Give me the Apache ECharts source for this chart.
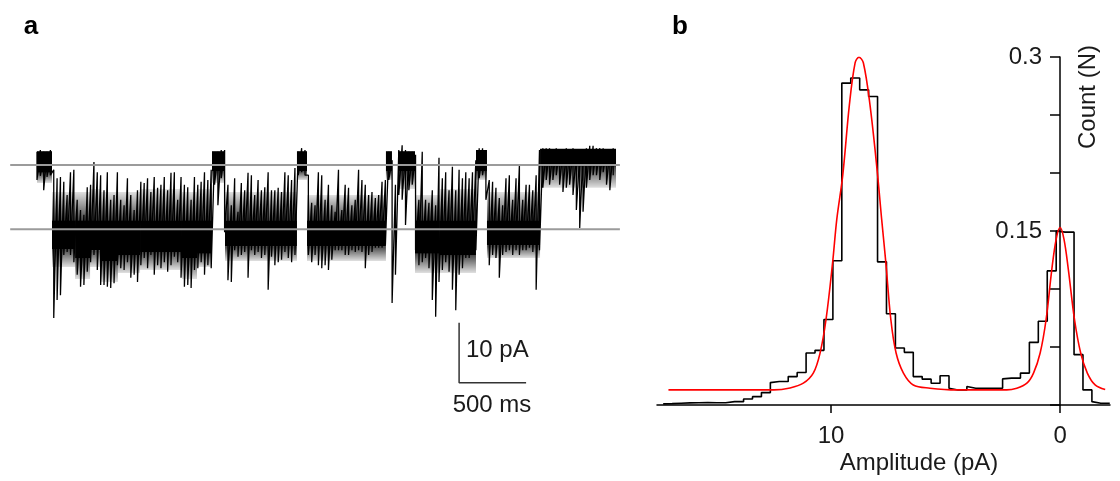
<!DOCTYPE html>
<html>
<head>
<meta charset="utf-8">
<script src="https://cdn.jsdelivr.net/npm/echarts@6/dist/echarts.min.js"></script>
<style>
html,body{margin:0;padding:0;background:#fff}
#main{width:1120px;height:481px}
</style>
</head>
<body>
<div id="main"></div>
<script>
// ---- panel a : single channel trace (pA), one column every 25 ms ----
var colStep = 25
var traceHi = [2.2, 2.5, 2.2, 2.2, 2.5, -0.8, -2.2, -2.0, -2.8, -5.0,
  -1.2, -0.8, -5.8, -7.5, -8.3, -3.7, -3.3, 0.5, -1.2, -1.7,
  -4.2, -1.2, -5.8, -5.0, -1.2, -5.8, -6.7, -2.2, -5.0, -7.5,
  -4.2, -2.8, -3.0, -2.2, -4.5, -2.0, -3.8, -3.3, -2.0, -4.2,
  -1.3, -1.2, -5.8, -2.0, -3.3, -3.7, -5.8, -2.0, -3.3, -2.8,
  -1.2, -2.5, -0.8, 2.0, 2.2, 2.5, 2.5, -3.3, -6.7, -2.2,
  -7.8, -3.0, -4.2, -1.3, -1.7, -5.0, -2.5, -4.2, -3.7, -1.2,
  -4.2, -4.2, -3.8, -4.5, -1.2, -1.7, -2.5, -0.5, 2.2, 2.8,
  2.5, -1.7, -6.3, -6.7, -1.2, -1.7, -5.8, -3.3, -6.7, -7.8,
  -0.8, -7.5, -3.3, -3.8, -6.7, -5.8, -0.8, -2.5, -3.3, -5.0,
  -4.5, -5.5, -5.0, -2.8, -2.5, 2.2, 0.8, -3.3, 2.5, 3.3,
  2.5, 2.2, 2.2, 1.7, -5.8, 2.2, -5.8, -6.3, -4.2, -6.7,
  1.2, -2.2, -1.2, -4.2, -0.3, -4.2, -0.8, -2.2, -1.2, -2.2,
  -1.2, 0.8, 2.8, 2.8, 2.5, -2.5, -2.8, -3.8, -5.5, -6.7,
  -2.2, -1.7, -5.8, -2.2, 0, -5.8, -3.3, -3.3, -4.2, -1.7,
  2.5, 2.8, 2.8, 2.8, 2.5, 2.8, 2.5, 2.5, 2.8, 2.5,
  2.8, 2.2, 1.7, 2.5, 2.8, 3.2, 3.2, 2.8, 2.8, 2.8,
  2.5, 2.5, 2.8]
var traceLo = [-2.5, -1.8, -4.2, -2.0, -1.7, -25.5, -22.5, -21.7, -15.0, -14.5,
  -15.0, -16.2, -18.3, -20.3, -20.0, -17.8, -16.2, -15.0, -17.5, -20.0,
  -20.0, -20.3, -20.5, -19.7, -16.7, -17.2, -17.5, -16.2, -18.8, -18.3,
  -19.5, -16.7, -15.5, -17.2, -15.0, -18.3, -16.7, -17.2, -16.2, -17.8,
  -16.7, -15.3, -16.2, -18.8, -20.3, -20.0, -20.5, -17.5, -17.2, -16.2,
  -18.3, -16.7, -17.2, -3.3, -6.7, -2.2, -11.2, -19.2, -19.5, -14.2,
  -15.3, -15.0, -14.5, -18.8, -14.2, -15.0, -14.5, -15.5, -15.0, -20.8,
  -15.3, -16.7, -16.2, -15.8, -14.5, -15.5, -16.2, -15.0, -1.7, -1.2,
  -1.7, -15.0, -16.2, -15.0, -16.7, -17.2, -16.7, -17.5, -15.8, -14.2,
  -14.2, -14.2, -15.0, -15.0, -14.2, -14.5, -14.2, -14.5, -17.2, -15.0,
  -14.5, -13.8, -13.8, -13.8, -13.3, -2.5, -23.0, -18.3, -5.0, -5.8,
  -10.0, -4.2, -3.3, -14.2, -16.7, -16.2, -15.5, -17.2, -22.5, -25.3,
  -19.5, -17.5, -16.2, -17.8, -20.8, -24.2, -18.3, -17.2, -15.5, -15.5,
  -14.5, -14.2, -2.2, -1.7, -5.8, -16.7, -15.0, -15.5, -18.8, -15.0,
  -14.5, -14.2, -15.0, -14.2, -15.0, -14.2, -14.2, -13.8, -14.5, -20.8,
  -14.2, -3.8, -2.5, -3.3, -2.5, -1.7, -3.3, -4.5, -3.8, -3.3,
  -5.0, -7.5, -10.5, -7.8, -3.8, -2.5, -1.7, -1.7, -2.5, -1.2,
  -3.3, -4.2, -1.7]
// dwell segments: [t start ms, t end ms, dense top pA, dense bottom pA, noise top pA, noise bottom pA]
var coreBands = [
  [0, 112, 2.3, -1.3, 2.3, -3.0],
  [112, 284, -9.2, -14.0, -4.5, -17.0],
  [284, 396, -9.2, -15.5, -4.5, -19.0],
  [396, 470, -9.2, -14.2, -4.0, -17.0],
  [470, 604, -9.2, -16.0, -4.5, -19.5],
  [604, 769, -9.2, -15.0, -4.5, -18.0],
  [769, 1082, -9.2, -14.5, -4.0, -17.5],
  [1082, 1194, -9.2, -15.5, -4.5, -19.0],
  [1194, 1306, -9.2, -14.8, -4.0, -17.0],
  [1306, 1403, 2.3, -1.0, 2.3, -3.0],
  [1403, 1940, -9.2, -13.6, -4.5, -16.0],
  [1940, 2015, 2.3, -1.0, 2.3, -2.5],
  [2015, 2604, -9.2, -13.6, -5.0, -16.0],
  [2604, 2649, 2.3, -1.0, 2.3, -2.5],
  [2694, 2821, 2.3, -1.0, 2.3, -4.0],
  [2821, 3007, -9.2, -14.8, -5.0, -18.0],
  [3007, 3276, -9.2, -15.0, -4.0, -18.0],
  [3276, 3358, 2.5, -1.0, 2.5, -2.5],
  [3358, 3754, -9.2, -13.4, -4.5, -15.5],
  [3754, 4321, 2.7, -0.3, 2.7, -3.8]]
var refLevels = [0, -10.7]
var refSpan = [-200, 4350]
var scaleBar = [[3150, -26.3], [3150, -36.3], [3650, -36.3]]

// ---- panel b : amplitude histogram ----
var binStart = -2.17
var binWidth = 0.39
var binCounts = [0.0015, 0.0029, 0.013, 0.0434, 0.149, 0.150, 0.1156, 0.0722, 0.054, 0.0275,
  0.0232, 0.0225, 0.0145, 0.0145, 0.0145, 0.0159, 0.013, 0.0145, 0.0252, 0.0188,
  0.0223, 0.0245, 0.0454, 0.0492, 0.0787, 0.1234, 0.266, 0.2717, 0.2819, 0.2775,
  0.1243, 0.0737, 0.0471, 0.0448, 0.028, 0.0245, 0.0202, 0.0193, 0.0107, 0.0072,
  0.0052, 0.0029, 0.002, 0.002, 0.0022, 0.002, 0.0018, 0.0015, 0.0012, 0.001]
// gaussian fit
var fitAmp = [-1.97, -1.53, -1.19, -0.9, -0.63, -0.36, -0.17, 0, 0.17, 0.36,
  0.61, 0.87, 1.16, 1.45, 1.89, 2.33, 3.4, 4.51, 5.68, 6.41,
  6.84, 7.16, 7.39, 7.61, 7.79, 7.98, 8.3, 8.59, 8.78, 8.95,
  9.2, 9.49, 9.75, 9.93, 10.22, 10.48, 10.77, 11.21, 11.79, 12.5, 17.1]
var fitCount = [0.0133, 0.0173, 0.0275, 0.0448, 0.0737, 0.117, 0.143, 0.153, 0.143, 0.117,
  0.0737, 0.0448, 0.0275, 0.0188, 0.0145, 0.013, 0.013, 0.013, 0.0145, 0.0173,
  0.0275, 0.0448, 0.0737, 0.1232, 0.160, 0.2008, 0.2587, 0.295, 0.2998, 0.295,
  0.2587, 0.198, 0.160, 0.1232, 0.0737, 0.0448, 0.0277, 0.0188, 0.0147, 0.013, 0.013]

var font = '"Liberation Sans", Arial, sans-serif'
var txt = '#1a1a1a'

// trace drawn as a polyline going top -> bottom in every column
var trace = []
traceHi.forEach(function(h, i){
  trace.push([i*colStep, h])
  trace.push([i*colStep, traceLo[i]])
})
var steps = []
binCounts.forEach(function(c, i){
  var lo = binStart + i*binWidth
  steps.push([lo, c])
  steps.push([lo+binWidth, c])
})
var fit = fitAmp.map(function(a, i){ return [a, fitCount[i]] })
var refSeries = refLevels.map(function(v){
  return {type:'line', xAxisIndex:0, yAxisIndex:0, data:[[refSpan[0], v], [refSpan[1], v]],
    symbol:'none', lineStyle:{color:'#9b9b9b', width:2}, z:5, silent:true}
})

function fade(from, to){
  return {type:'linear', x:0, y:0, x2:0, y2:1,
    colorStops:[{offset:0, color:'rgba(0,0,0,' + from + ')'}, {offset:1, color:'rgba(0,0,0,' + to + ')'}]}
}

var chart = echarts.init(document.getElementById('main'), null, {renderer:'canvas'})
var option = {
  animation:false,
  grid:[
    {left:10.2, top:135, width:616.4, height:270},
    {left:657, top:57, width:453, height:348}
  ],
  xAxis:[
    {gridIndex:0, type:'value', min:-200, max:4400, show:false},
    {gridIndex:1, type:'value', min:-2.18, max:17.6, inverse:true,
      axisLine:{lineStyle:{color:'#000', width:1.5}},
      axisTick:{customValues:[0, 10], length:8, lineStyle:{color:'#000', width:1.5}},
      axisLabel:{customValues:[0, 10], fontSize:24, fontFamily:font, color:txt, margin:19},
      splitLine:{show:false}}
  ],
  yAxis:[
    {gridIndex:0, type:'value', min:-40, max:5, show:false},
    // sits on amplitude 0 (1060px), so shift it in from the grid's left edge
    {gridIndex:1, type:'value', min:0, max:0.3, interval:0.05, position:'left', offset:-403,
      axisLine:{show:true, onZero:false, lineStyle:{color:'#000', width:1.5}},
      axisTick:{show:true, length:10, lineStyle:{color:'#000', width:1.5}},
      axisLabel:{fontSize:24, fontFamily:font, color:txt, margin:18,
        formatter:function(v){
          if(Math.abs(v-0.15) < 1e-6) return '0.15'
          if(Math.abs(v-0.3) < 1e-6) return '0.3'
          return ''
        }},
      splitLine:{show:false}}
  ],
  series:[
    {type:'custom', xAxisIndex:0, yAxisIndex:0, data:coreBands, silent:true,
      renderItem:function(params, api){
        var t0 = api.value(0), t1 = api.value(1)
        var a = api.coord([t0, api.value(2)]), b = api.coord([t1, api.value(3)])
        var ga = api.coord([t0, api.value(4)]), gb = api.coord([t1, api.value(5)])
        var kids = [{type:'rect', shape:{x:a[0], y:a[1], width:b[0]-a[0], height:b[1]-a[1]}, style:{fill:'#000'}}]
        if(ga[1] < a[1] - 1){
          kids.push({type:'rect', shape:{x:a[0], y:ga[1], width:b[0]-a[0], height:a[1]-ga[1]}, style:{fill:fade(0.12, 0.72)}})
        }
        if(gb[1] > b[1] + 1){
          kids.push({type:'rect', shape:{x:a[0], y:b[1], width:b[0]-a[0], height:gb[1]-b[1]}, style:{fill:fade(0.72, 0.12)}})
        }
        return {type:'group', children:kids}
      }},
    {type:'line', xAxisIndex:0, yAxisIndex:0, data:trace, symbol:'none', sampling:null,
      lineStyle:{color:'#000', width:1.3}, silent:true},
    {type:'line', xAxisIndex:0, yAxisIndex:0, data:scaleBar, symbol:'none',
      lineStyle:{color:'#333', width:1.5}, silent:true}
  ].concat(refSeries).concat([
    {type:'line', xAxisIndex:1, yAxisIndex:1, data:steps, symbol:'none',
      lineStyle:{color:'#000', width:1.6}, z:3, silent:true},
    {type:'line', xAxisIndex:1, yAxisIndex:1, data:fit, symbol:'none', smooth:0.35,
      lineStyle:{color:'#ff0000', width:1.6}, z:4, silent:true}
  ]),
  graphic:[
    {type:'text', x:31, y:27, style:{text:'a', font:'bold 26px ' + font, fill:'#000', align:'center', verticalAlign:'middle'}},
    {type:'text', x:680, y:27, style:{text:'b', font:'bold 26px ' + font, fill:'#000', align:'center', verticalAlign:'middle'}},
    {type:'text', x:466, y:350, style:{text:'10 pA', font:'24px ' + font, fill:txt, align:'left', verticalAlign:'middle'}},
    {type:'text', x:492, y:405, style:{text:'500 ms', font:'24px ' + font, fill:txt, align:'center', verticalAlign:'middle'}},
    {type:'text', x:919, y:463, style:{text:'Amplitude (pA)', font:'24px ' + font, fill:txt, align:'center', verticalAlign:'middle'}},
    {type:'text', x:1088, y:97, rotation:Math.PI/2, style:{text:'Count (N)', font:'24px ' + font, fill:txt, align:'center', verticalAlign:'middle'}}
  ]
}
chart.setOption(option)
</script>
</body>
</html>
